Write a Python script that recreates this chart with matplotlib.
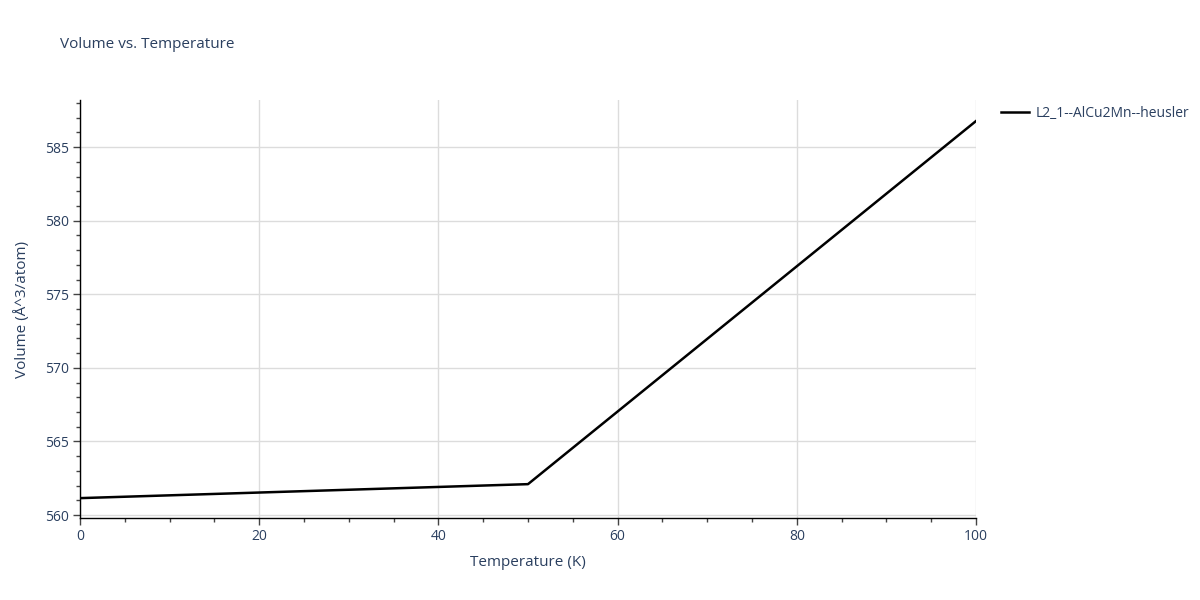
import numpy as np
import matplotlib
matplotlib.use("Agg")
import matplotlib.pyplot as plt
from matplotlib.ticker import MultipleLocator

# data
temperature = [0, 50, 100]
volume = [561.15, 562.1, 586.77]
series_name = "L2_1--AlCu2Mn--heusler"

txt = "#2a3f5f"
plt.rcParams['font.family'] = ['Open Sans', 'DejaVu Sans']

fig = plt.figure(figsize=(12, 6), dpi=100)
ax = fig.add_axes([80/1200, 1 - 518/600, 896/1200, 418/600])

ax.plot(temperature, volume, color='black', lw=1.8, label=series_name)

ax.set_xlim(0, 100)
ax.set_ylim(559.8, 588.2)
ax.xaxis.set_major_locator(MultipleLocator(20))
ax.xaxis.set_minor_locator(MultipleLocator(5))
ax.yaxis.set_major_locator(MultipleLocator(5))
ax.yaxis.set_minor_locator(MultipleLocator(1))
ax.grid(True, which='major', color='#dcdcdc', lw=1)
ax.set_axisbelow(True)

for s in ['top', 'right']:
    ax.spines[s].set_visible(False)
for s in ['left', 'bottom']:
    ax.spines[s].set_color('black')
    ax.spines[s].set_linewidth(1)

ax.tick_params(which='major', length=5, width=1, color='#444444', labelsize=10, labelcolor=txt, pad=3)
ax.tick_params(which='minor', length=3, width=1, color='#444444')

ax.set_xlabel("Temperature (K)", fontsize=11, color=txt, labelpad=8)
ax.set_ylabel("Volume (Å^3/atom)", fontsize=11, color=txt, labelpad=11)
fig.text(60/1200, 1 - 45/600, "Volume vs. Temperature", fontsize=11, color=txt, va='center')

leg = ax.legend(loc='upper left', bbox_to_anchor=(1.022, 1.0), frameon=False,
                fontsize=10, handlelength=2.0, handletextpad=0.5, borderaxespad=0)
for t in leg.get_texts():
    t.set_color(txt)

fig.savefig("out.png", dpi=100)
